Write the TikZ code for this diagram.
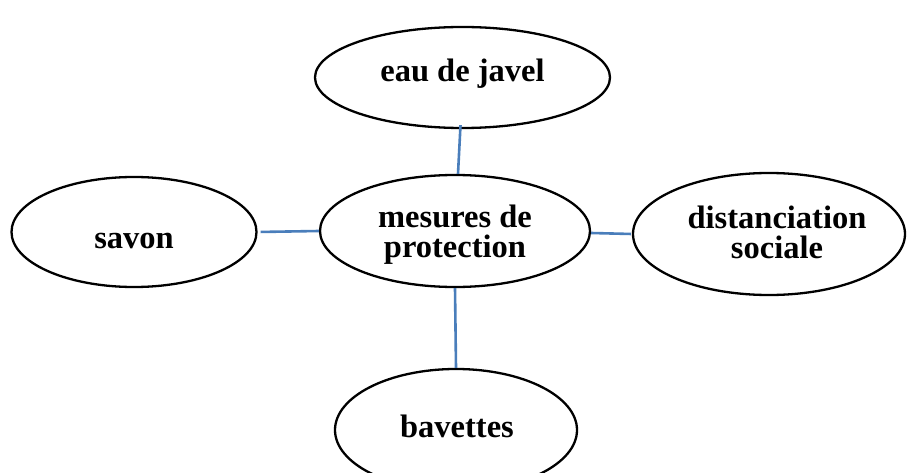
\documentclass[tikz,border=0pt]{standalone}
\usepackage{fontspec}
\setmainfont{Liberation Serif}
\usetikzlibrary{shapes.geometric}
\definecolor{linkblue}{HTML}{4A7EBB}
\tikzset{
  bubble/.style={ellipse, draw=black, line width=2.3pt, inner sep=0pt, fill=none},
  lbl/.style={font=\bfseries\fontsize{32.5}{30}\selectfont, align=center, anchor=base, inner sep=0pt},
  link/.style={draw=linkblue, line width=2.6pt}
}
\begin{document}
\begin{tikzpicture}[x=1pt,y=-1pt]
\useasboundingbox (0,0) rectangle (907,473);
\node[bubble, minimum width=295pt, minimum height=101pt] (eau) at (462.5,77.5) {};
\node[bubble, minimum width=270pt, minimum height=112pt] (ctr) at (455,231) {};
\node[bubble, minimum width=245pt, minimum height=110pt] (sav) at (134,232) {};
\node[bubble, minimum width=272pt, minimum height=122pt] (dist) at (769,234) {};
\node[bubble, minimum width=242pt, minimum height=122pt] (bav) at (456,430) {};

\node[lbl] (teau) at (462.5,82) {eau de javel};
\node[lbl] (tctr) at (455,257) {mesures de\\protection};
\node[lbl] (tsav) at (134,248) {savon};
\node[lbl] (tdist) at (777,258) {distanciation\\sociale};
\node[lbl] (tbav) at (457,437) {bavettes};

\draw[link] ([xshift=-2pt,yshift=4pt]eau.south) -- ([xshift=3pt]ctr.north);
\draw[link, shorten <=3pt] (sav.east) -- (ctr.west);
\draw[link, shorten >=1pt] ([yshift=-2pt]ctr.east) -- (dist.west);
\draw[link] (ctr.south) -- (bav.north);
\end{tikzpicture}
\end{document}
